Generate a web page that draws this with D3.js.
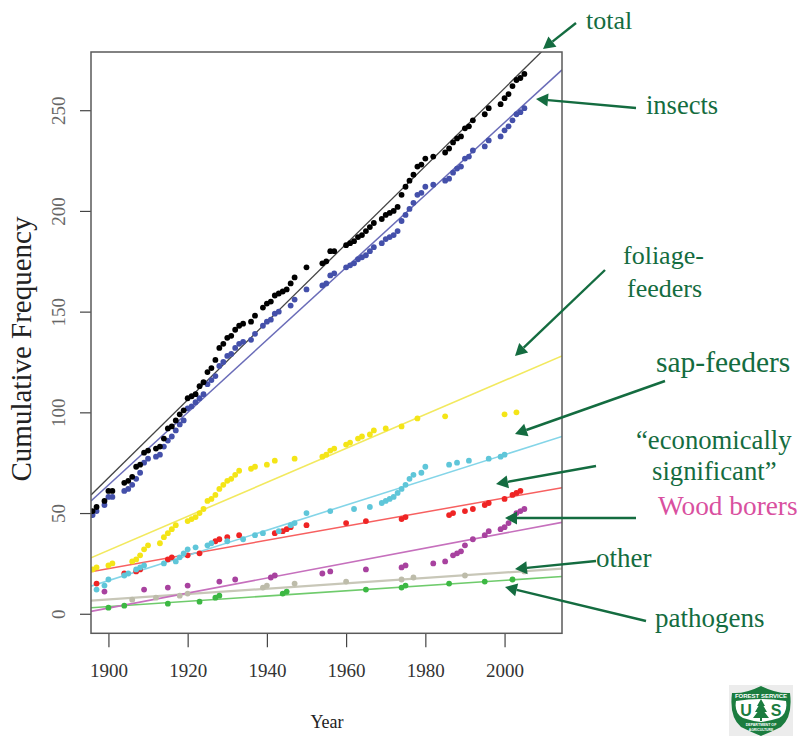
<!DOCTYPE html>
<html>
<head>
<meta charset="utf-8">
<script src="https://cdn.jsdelivr.net/npm/d3@7"></script>
<style>
html, body { margin: 0; padding: 0; background: #fff; }
svg { display: block; font-family: "Liberation Serif", serif; }
</style>
</head>
<body>
<script>
// values: [year, cumulative count]
const totalPoints = [[1896,51],[1897,53],[1899,56],[1900,61],[1901,61],[1904,65],[1905,66],[1906,68],[1907,73],[1908,74],[1909,80],[1910,81],[1912,82],[1913,83],[1914,87],[1915,92],[1916,93],[1917,96],[1918,99],[1919,101],[1920,107],[1921,108],[1922,109],[1923,113],[1924,115],[1925,120],[1926,122],[1927,126],[1928,132],[1929,134],[1930,137],[1931,138],[1932,141],[1933,143],[1934,144],[1936,145],[1937,148],[1939,152],[1940,154],[1941,155],[1942,158],[1943,159],[1944,160],[1945,161],[1946,164],[1947,167],[1950,172],[1954,174],[1955,175],[1956,180],[1957,180],[1960,183],[1961,184],[1962,185],[1963,187],[1964,188],[1965,190],[1966,192],[1967,194],[1969,196],[1970,198],[1971,199],[1972,200],[1973,202],[1974,208],[1975,212],[1976,215],[1977,218],[1978,222],[1979,223],[1980,226],[1982,227],[1985,229],[1986,231],[1987,234],[1988,236],[1989,237],[1990,241],[1991,242],[1992,245],[1995,248],[1996,251],[1999,253],[2000,256],[2001,258],[2002,262],[2003,265],[2004,266],[2005,268]];
const insectPoints = [[1896,49],[1897,51],[1899,54],[1900,58],[1901,58],[1904,61],[1905,62],[1906,64],[1907,67],[1908,70],[1909,75],[1910,77],[1912,78],[1913,79],[1914,83],[1915,86],[1916,88],[1917,91],[1918,94],[1919,96],[1920,102],[1921,103],[1922,105],[1923,107],[1924,109],[1925,114],[1926,116],[1927,118],[1928,123],[1929,125],[1930,128],[1931,129],[1932,132],[1933,134],[1934,135],[1936,136],[1937,139],[1939,143],[1940,145],[1941,146],[1942,149],[1943,150],[1946,153],[1947,156],[1950,161],[1954,163],[1955,164],[1956,168],[1957,169],[1960,172],[1961,173],[1962,174],[1963,176],[1964,177],[1965,178],[1966,180],[1967,182],[1969,184],[1970,186],[1971,187],[1972,188],[1973,190],[1974,195],[1975,198],[1976,201],[1977,204],[1978,208],[1979,209],[1980,212],[1982,213],[1985,215],[1986,216],[1987,219],[1988,221],[1989,222],[1990,226],[1991,227],[1992,230],[1995,232],[1996,235],[1999,237],[2000,240],[2001,242],[2002,245],[2003,248],[2004,249],[2005,251]];
const foliagePoints = [[1896,22],[1897,23],[1900,24],[1901,25],[1906,26],[1907,27],[1908,29],[1909,32],[1910,34],[1913,35],[1914,38],[1915,40],[1916,42],[1917,44],[1920,46],[1921,47],[1922,48],[1923,50],[1924,52],[1925,56],[1926,57],[1927,59],[1928,62],[1929,64],[1930,66],[1931,67],[1932,69],[1933,71],[1936,72],[1937,73],[1940,74],[1942,76],[1947,77],[1954,78],[1955,79],[1956,81],[1957,82],[1960,84],[1961,85],[1963,87],[1964,88],[1966,89],[1967,91],[1970,92],[1974,93],[1978,97],[1985,98],[2000,99],[2003,100]];
const sapPoints = [[1897,12],[1899,14],[1900,17],[1904,19],[1905,20],[1907,22],[1908,23],[1909,24],[1914,25],[1917,26],[1918,28],[1919,30],[1920,32],[1922,33],[1925,34],[1926,35],[1930,36],[1934,37],[1937,39],[1939,40],[1943,41],[1946,44],[1947,45],[1950,50],[1956,51],[1962,52],[1966,53],[1969,55],[1970,56],[1971,57],[1972,58],[1973,60],[1974,62],[1975,64],[1976,67],[1977,69],[1979,70],[1980,73],[1986,74],[1988,75],[1991,76],[1996,77],[1999,78],[2000,79]];
const econPoints = [[1897,15],[1904,20],[1907,21],[1908,22],[1915,27],[1916,28],[1920,29],[1923,30],[1927,36],[1928,37],[1930,38],[1933,39],[1942,40],[1944,41],[1945,42],[1946,43],[1950,44],[1960,45],[1965,46],[1974,47],[1975,48],[1986,49],[1987,50],[1990,51],[1992,52],[1995,54],[1996,55],[2000,57],[2002,59],[2003,60],[2004,61]];
const woodPoints = [[1899,11],[1909,12],[1915,13],[1920,14],[1928,16],[1932,17],[1941,18],[1942,19],[1954,20],[1956,21],[1965,22],[1974,23],[1975,24],[1982,25],[1985,26],[1987,29],[1988,30],[1989,31],[1990,34],[1992,37],[1995,39],[1996,41],[1999,42],[2000,43],[2001,45],[2003,50],[2004,51],[2005,52]];
const otherPoints = [[1906,7],[1912,8],[1918,9],[1920,10],[1939,13],[1940,14],[1947,15],[1960,16],[1974,17],[1977,18],[1990,19],[2005,21]];
const pathogenPoints = [[1900,3],[1904,4],[1915,5],[1923,6],[1927,8],[1928,9],[1944,10],[1945,11],[1965,12],[1974,13],[1975,14],[1986,15],[1995,16],[2002,17]];

// fitted lines: value at left and right edge of the plot
const totalFit = [59, 289];
const insectFit = [56, 270];
const foliageFit = [27.8, 128];
const sapFit = [13.7, 88];
const econFit = [20.9, 62.6];
const woodFit = [1.2, 45.4];
const otherFit = [6.5, 22.4];
const pathogenFit = [3, 18.5];

const xTicks = [1900, 1920, 1940, 1960, 1980, 2000];
const yTicks = [0, 50, 100, 150, 200, 250];

const xLim = [1895.6, 2014.5];
const yLim = [-9.7, 278.9];

const series = [
    {points: pathogenPoints, fit: pathogenFit, dot: "#3cb843", line: "#6fcb6c", w: 1.6},
    {points: otherPoints, fit: otherFit, dot: "#bdbcaa", line: "#c8c7b8", w: 2.2},
    {points: woodPoints, fit: woodFit, dot: "#a8429f", line: "#c670bd", w: 1.6},
    {points: econPoints, fit: econFit, dot: "#ef2424", line: "#f76060", w: 1.5},
    {points: sapPoints, fit: sapFit, dot: "#5fc6d9", line: "#84d5e8", w: 1.6},
    {points: foliagePoints, fit: foliageFit, dot: "#f4e517", line: "#f2e95f", w: 1.6},
    {points: insectPoints, fit: insectFit, dot: "#4450aa", line: "#6a6cb8", w: 1.5},
    {points: totalPoints, fit: totalFit, dot: "#000", line: "#444", w: 1.3}
];

const labelGreen = "#146c40";
const labels = [
    {text: "total", x: 586, y: 29, size: 26},
    {text: "insects", x: 646, y: 114, size: 26.5},
    {text: "foliage-", x: 623, y: 264, size: 26},
    {text: "feeders", x: 627, y: 297, size: 26},
    {text: "sap-feeders", x: 656, y: 372, size: 29.5},
    {text: "“economically", x: 636, y: 449, size: 26.7},
    {text: "significant”", x: 652, y: 480, size: 26.7},
    {text: "Wood borers", x: 658, y: 515, size: 27.3, color: "#d9509f"},
    {text: "other", x: 596, y: 567, size: 27},
    {text: "pathogens", x: 655, y: 627, size: 27}
];
const arrows = [
    [576, 23, 543, 49],
    [636, 108, 536, 99],
    [605, 270, 515, 356],
    [665, 381, 515, 434],
    [596, 466, 496, 484],
    [636, 518, 505, 518],
    [596, 561, 515, 569],
    [646, 621, 505, 587]
];

const width = 799;
const height = 736;

const svg = d3.select("body")
    .append("svg")
    .attr("width", width)
    .attr("height", height);

const x = d3.scaleLinear().domain(xLim).range([91, 562]);
const y = d3.scaleLinear().domain(yLim).range([633.3, 52]);

svg.append("clipPath")
    .attr("id", "plot-clip")
    .append("rect")
    .attr("x", 91)
    .attr("y", 52)
    .attr("width", 471)
    .attr("height", 581.3);

// Axes
const xAxis = svg.append("g")
    .attr("transform", "translate(0,633.3)")
    .call(d3.axisBottom(x).tickValues(xTicks).tickFormat(d3.format("d")).tickSize(14).tickPadding(16));
const yAxis = svg.append("g")
    .attr("transform", "translate(91,0)")
    .call(d3.axisLeft(y).tickValues(yTicks).tickSize(11).tickPadding(0));

xAxis.select(".domain").remove();
yAxis.select(".domain").remove();
xAxis.selectAll("line").attr("stroke", "#444").attr("stroke-width", 1.2);
yAxis.selectAll("line").attr("stroke", "#444").attr("stroke-width", 1.2);
xAxis.selectAll("text")
    .attr("font-family", "Liberation Serif")
    .attr("font-size", 19)
    .attr("fill", "#333");
yAxis.selectAll("text")
    .attr("font-family", "Liberation Serif")
    .attr("font-size", 19)
    .attr("fill", "#666")
    .attr("text-anchor", "middle")
    .attr("x", null)
    .attr("dy", null)
    .attr("transform", "translate(-26,0) rotate(-90)");

// Lines and points
const plot = svg.append("g").attr("clip-path", "url(#plot-clip)");

series.forEach(s => {
    plot.append("line")
        .attr("x1", x(xLim[0]))
        .attr("y1", y(s.fit[0]))
        .attr("x2", x(xLim[1]))
        .attr("y2", y(s.fit[1]))
        .attr("stroke", s.line)
        .attr("stroke-width", s.w);
});
series.forEach(s => {
    plot.append("g")
        .selectAll("circle")
        .data(s.points)
        .join("circle")
        .attr("cx", d => x(d[0]))
        .attr("cy", d => y(d[1]))
        .attr("r", 2.9)
        .attr("fill", s.dot);
});

svg.append("rect")
    .attr("x", 91)
    .attr("y", 52)
    .attr("width", 471)
    .attr("height", 581.3)
    .attr("fill", "none")
    .attr("stroke", "#5a5a5a")
    .attr("stroke-width", 1.5);

// Axis titles
svg.append("text")
    .attr("x", 327)
    .attr("y", 728)
    .attr("text-anchor", "middle")
    .attr("font-size", 18)
    .attr("fill", "#222")
    .text("Year");
svg.append("text")
    .attr("transform", "translate(31,349) rotate(-90)")
    .attr("text-anchor", "middle")
    .attr("font-size", 29)
    .attr("fill", "#222")
    .text("Cumulative Frequency");

// Annotations
svg.append("g")
    .selectAll("text")
    .data(labels)
    .join("text")
    .attr("x", d => d.x)
    .attr("y", d => d.y)
    .attr("font-size", d => d.size)
    .attr("fill", d => d.color || labelGreen)
    .text(d => d.text);

const arrowGroup = svg.append("g");
arrows.forEach(a => {
    const ang = Math.atan2(a[3] - a[1], a[2] - a[0]);
    const len = 12, half = 6.5;
    const bx = a[2] - len * Math.cos(ang), by = a[3] - len * Math.sin(ang);
    arrowGroup.append("line")
        .attr("x1", a[0]).attr("y1", a[1]).attr("x2", bx).attr("y2", by)
        .attr("stroke", labelGreen).attr("stroke-width", 2.4);
    arrowGroup.append("polygon")
        .attr("points", [
            [a[2], a[3]],
            [bx - half * Math.sin(ang), by + half * Math.cos(ang)],
            [bx + half * Math.sin(ang), by - half * Math.cos(ang)]
        ].join(" "))
        .attr("fill", labelGreen);
});

// Forest Service shield
const logo = svg.append("g").attr("transform", "translate(729,685)");
const shield = "M3 8 Q16 9 32 1 Q48 9 61 8 Q64 32 52 42 Q42 47 32 51 Q22 47 12 42 Q0 32 3 8 Z";
const logoText = (text, cx, cy, size) => logo.append("text")
    .attr("x", cx)
    .attr("y", cy)
    .attr("text-anchor", "middle")
    .attr("font-family", "Liberation Sans")
    .attr("font-weight", "bold")
    .attr("font-size", size)
    .attr("fill", "#fff")
    .text(text);

logo.append("rect").attr("width", 64).attr("height", 51).attr("fill", "#ececec");
logo.append("path").attr("d", shield).attr("fill", "#1b7c3f");
logo.append("path")
    .attr("d", "M7 16 Q32 12 57 16 Q59 28 50 33 Q41 36 32 37 Q23 36 14 33 Q5 28 7 16 Z")
    .attr("fill", "#fff");
logoText("FOREST SERVICE", 32, 12.5, 6);
logoText("DEPARTMENT OF", 32, 41, 3.6);
logoText("AGRICULTURE", 32, 46, 3.4);
logoText("U", 17, 31, 16).attr("fill", "#1b7c3f");
logoText("S", 47, 31, 16).attr("fill", "#1b7c3f");
logo.append("polygon")
    .attr("points", "32,14 36,21 34.5,21 38,27 35.5,27 40,33 33,33 33,36 31,36 31,33 24,33 28.5,27 26,27 29.5,21 28,21")
    .attr("fill", "#1b7c3f");
</script>
</body>
</html>
